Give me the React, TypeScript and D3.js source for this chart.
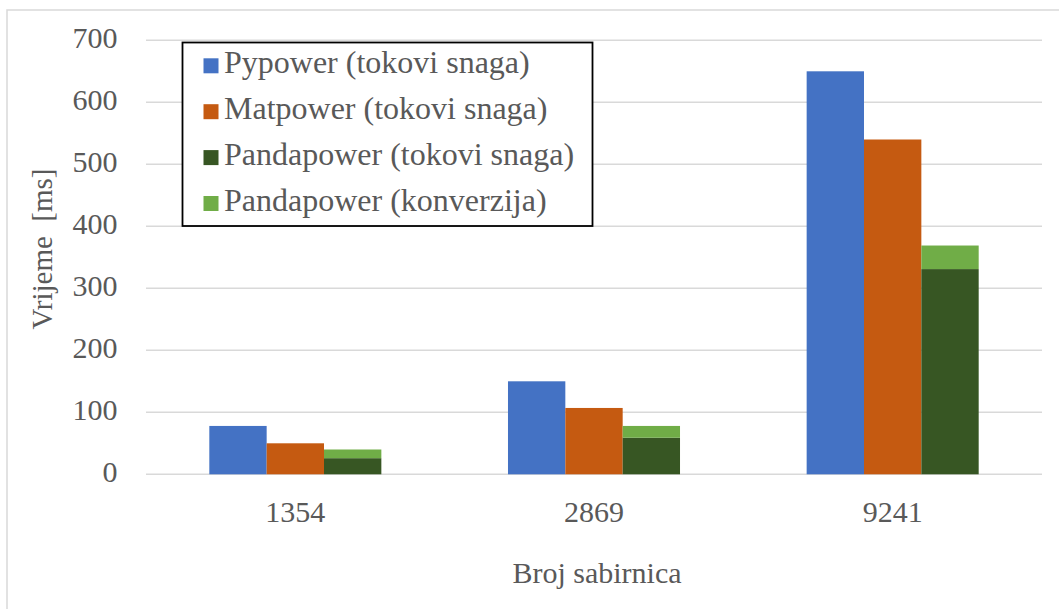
import React, { useRef, useEffect } from "react";
import * as d3 from "d3";

const categories = ["1354", "2869", "9241"];
const pypower = [78, 150, 650];
const matpower = [50, 107, 540];
const pandaFlow = [26, 59, 331];
const pandaConv = [14, 19, 38];
const yTicks = [0, 100, 200, 300, 400, 500, 600, 700];

const legendItems = [
  { label: "Pypower (tokovi snaga)", color: "#4472C4" },
  { label: "Matpower (tokovi snaga)", color: "#C55A11" },
  { label: "Pandapower (tokovi snaga)", color: "#375623" },
  { label: "Pandapower (konverzija)", color: "#70AD47" },
];

const App = () => {
  const svgRef = useRef<SVGSVGElement>(null);

  useEffect(() => {
    const w = 1059;
    const h = 609;
    const margin = { top: 40.3, right: 17, bottom: 134.7, left: 146 };
    const textColor = "#595959";
    const font = "'Liberation Serif', 'Times New Roman', serif";

    const svg = d3.select(svgRef.current).attr("width", w).attr("height", h);
    svg.selectAll("*").remove();

    svg
      .append("rect")
      .attr("x", 7)
      .attr("y", 10)
      .attr("width", 1100)
      .attr("height", 700)
      .attr("fill", "#fff")
      .attr("stroke", "#d9d9d9")
      .attr("stroke-width", 1.5);

    const xScale = d3
      .scaleBand()
      .domain(categories)
      .range([margin.left, w - margin.right])
      .paddingInner(0.424)
      .paddingOuter(0.212);

    const inner = d3
      .scaleBand()
      .domain(["py", "mat", "panda"])
      .range([0, xScale.bandwidth()]);

    const yScale = d3
      .scaleLinear()
      .domain([0, 700])
      .range([h - margin.bottom, margin.top]);

    // gridlines
    svg
      .append("g")
      .selectAll("line")
      .data(yTicks)
      .enter()
      .append("line")
      .attr("x1", margin.left)
      .attr("x2", w - margin.right)
      .attr("y1", (d) => yScale(d))
      .attr("y2", (d) => yScale(d))
      .attr("stroke", "#d9d9d9")
      .attr("stroke-width", 1.5);

    // y tick labels
    svg
      .append("g")
      .selectAll("text")
      .data(yTicks)
      .enter()
      .append("text")
      .attr("x", 117.5)
      .attr("y", (d) => yScale(d) + 8)
      .attr("text-anchor", "end")
      .attr("font-family", font)
      .attr("font-size", 30)
      .attr("fill", textColor)
      .text((d) => d);

    // bars
    const groups = svg
      .append("g")
      .selectAll("g")
      .data(categories)
      .enter()
      .append("g")
      .attr("transform", (d) => `translate(${xScale(d)},0)`);

    const bar = (
      key: string,
      color: string,
      lo: (i: number) => number,
      hi: (i: number) => number
    ) => {
      groups
        .append("rect")
        .attr("x", inner(key)!)
        .attr("width", inner.bandwidth())
        .attr("y", (_d, i) => yScale(hi(i)))
        .attr("height", (_d, i) => yScale(lo(i)) - yScale(hi(i)))
        .attr("fill", color);
    };
    bar("py", "#4472C4", () => 0, (i) => pypower[i]);
    bar("mat", "#C55A11", () => 0, (i) => matpower[i]);
    bar("panda", "#375623", () => 0, (i) => pandaFlow[i]);
    bar("panda", "#70AD47", (i) => pandaFlow[i], (i) => pandaFlow[i] + pandaConv[i]);

    // category labels
    svg
      .append("g")
      .selectAll("text")
      .data(categories)
      .enter()
      .append("text")
      .attr("x", (d) => xScale(d)! + xScale.bandwidth() / 2)
      .attr("y", 522)
      .attr("text-anchor", "middle")
      .attr("font-family", font)
      .attr("font-size", 30)
      .attr("fill", textColor)
      .text((d) => d);

    // axis titles
    svg
      .append("text")
      .attr("x", 597)
      .attr("y", 583)
      .attr("text-anchor", "middle")
      .attr("font-family", font)
      .attr("font-size", 30)
      .attr("fill", textColor)
      .text("Broj sabirnica");

    svg
      .append("text")
      .attr("transform", "translate(52,249) rotate(-90)")
      .attr("text-anchor", "middle")
      .attr("font-family", font)
      .attr("font-size", 29)
      .attr("fill", textColor)
      .style("white-space", "pre")
      .text("Vrijeme  [ms]");

    // legend
    const legend = svg.append("g");
    legend
      .append("rect")
      .attr("x", 182.5)
      .attr("y", 42.5)
      .attr("width", 410)
      .attr("height", 183.5)
      .attr("fill", "#fff")
      .attr("stroke", "#000")
      .attr("stroke-width", 1.8);

    const rows = legend
      .selectAll("g.item")
      .data(legendItems)
      .enter()
      .append("g")
      .attr("class", "item")
      .attr("transform", (_d, i) => `translate(0,${73.3 + i * 45.9})`);

    rows
      .append("rect")
      .attr("x", 203.5)
      .attr("y", -15)
      .attr("width", 15)
      .attr("height", 15)
      .attr("fill", (d) => d.color);

    rows
      .append("text")
      .attr("x", 224)
      .attr("y", 0)
      .attr("font-family", font)
      .attr("font-size", 32)
      .attr("fill", textColor)
      .text((d) => d.label);
  }, []);

  return (
    <svg
      ref={svgRef}
      style={{ position: "fixed", left: 0, top: 0, display: "block" }}
    ></svg>
  );
};

export default App;
